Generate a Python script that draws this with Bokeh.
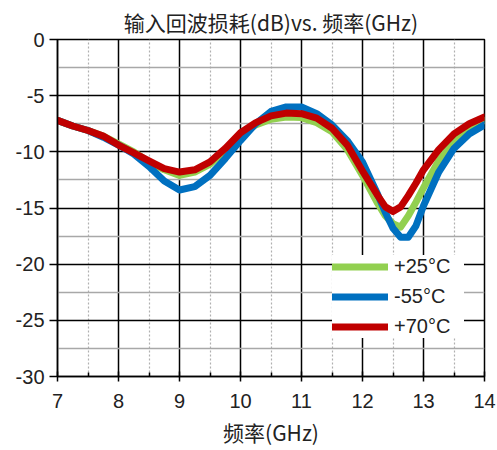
from bokeh.plotting import figure
from bokeh.models import FixedTicker, Range1d, Legend, LegendItem
from bokeh.embed import file_html
from bokeh.resources import INLINE

# ---- data ----
freq = [7, 7.25, 7.5, 7.75, 8, 8.25, 8.5, 8.75, 9, 9.25, 9.5, 9.75, 10,
        10.25, 10.5, 10.75, 11, 11.25, 11.5, 11.75, 12, 12.25, 12.375, 12.5,
        12.625, 12.75, 12.875, 13, 13.25, 13.5, 13.75, 14]
rl_p25 = [-7.2, -7.7, -8.1, -8.6, -9.3, -10.0, -10.9, -11.6, -12.1, -11.8, -11.1, -9.9, -8.5,
          -7.6, -7.1, -6.9, -6.95, -7.4, -8.2, -9.8, -12.1, -14.6, -15.7, -16.4,
          -16.7, -15.7, -14.5, -13.2, -10.8, -9.0, -7.9, -7.2]
rl_m55 = [-7.2, -7.7, -8.1, -8.7, -9.4, -10.2, -11.3, -12.6, -13.4, -13.1, -12.1, -10.6, -9.0,
          -7.5, -6.4, -6.0, -6.0, -6.6, -7.6, -9.0, -10.9, -13.8, -15.4, -16.8,
          -17.6, -17.6, -16.6, -14.8, -11.8, -9.7, -8.4, -7.6]
rl_p70 = [-7.2, -7.7, -8.1, -8.6, -9.4, -10.1, -10.8, -11.5, -11.8, -11.6, -10.9, -9.7, -8.3,
          -7.4, -6.8, -6.55, -6.6, -7.0, -7.9, -9.4, -11.7, -13.9, -14.9, -15.3,
          -14.9, -13.9, -12.8, -11.6, -9.8, -8.4, -7.5, -6.9]

x_major = [7, 8, 9, 10, 11, 12, 13, 14]
x_minor = [7.5, 8.5, 9.5, 10.5, 11.5, 12.5, 13.5]
y_major = [-30, -25, -20, -15, -10, -5, 0]
y_minor = [-27.5, -22.5, -17.5, -12.5, -7.5, -2.5]
y_labels = ["-30", "-25", "-20", "-15", "-10", "-5", "0"]

series_names = ["+25°C", "-55°C", "+70°C"]
series_colors = ["#92D050", "#0070C0", "#C00000"]

title_text = "输入回波损耗(dB)vs. 频率(GHz)"
x_label = "频率(GHz)"

p = figure(width=497, height=450, output_backend="svg", toolbar_location=None,
           x_range=Range1d(7, 14), y_range=Range1d(-30, 0),
           min_border_left=57, min_border_right=13, min_border_top=39,
           min_border_bottom=74, title=title_text)

p.title.text_font = "Noto Sans CJK SC"
p.title.text_font_size = "21px"
p.title.text_font_style = "normal"
p.title.align = "center"
p.title.text_color = "#222222"
p.title.standoff = 6
p.title.offset = 8

p.outline_line_color = "black"
p.outline_line_width = 1.5
p.background_fill_color = "white"
p.border_fill_color = "white"

# axes
p.xaxis.ticker = FixedTicker(ticks=x_major, minor_ticks=x_minor)
p.yaxis.ticker = FixedTicker(ticks=y_major, minor_ticks=y_minor)
for ax in (p.xaxis[0], p.yaxis[0]):
    ax.axis_line_color = "black"
    ax.axis_line_width = 1.5
    ax.major_tick_line_color = "black"
    ax.major_tick_line_width = 1.5
    ax.major_label_text_font = "Liberation Sans"
    ax.major_label_text_color = "#222222"
    ax.major_label_text_font_size = "20px"
p.yaxis.major_label_overrides = {v: s for v, s in zip(y_major, y_labels)}
p.xaxis.major_tick_in = 5
p.xaxis.major_tick_out = 5
p.xaxis.minor_tick_in = 4
p.xaxis.minor_tick_out = 0
p.xaxis.minor_tick_line_color = "black"
p.xaxis.minor_tick_line_width = 1.5
p.xaxis.major_label_standoff = 12
p.xaxis.axis_label = x_label
p.xaxis.axis_label_text_font = "Noto Sans CJK SC"
p.xaxis.axis_label_text_font_size = "21px"
p.xaxis.axis_label_text_font_style = "normal"
p.xaxis.axis_label_text_color = "#222222"
p.xaxis.axis_label_standoff = 6

p.yaxis.major_tick_in = 0
p.yaxis.major_tick_out = 8
p.yaxis.minor_tick_line_color = None
p.yaxis.major_label_standoff = 5

# grids
p.xgrid.ticker = FixedTicker(ticks=x_major, minor_ticks=x_minor)
p.xgrid.grid_line_color = "black"
p.xgrid.grid_line_width = 1.5
p.xgrid.minor_grid_line_color = "#b0b0b0"
p.xgrid.minor_grid_line_dash = "2 2"
p.xgrid.minor_grid_line_width = 1.2
p.ygrid.ticker = FixedTicker(ticks=y_major, minor_ticks=y_minor)
p.ygrid.grid_line_color = "black"
p.ygrid.grid_line_width = 1.5
p.ygrid.minor_grid_line_color = "#a8a8a8"
p.ygrid.minor_grid_line_width = 1.5

# lines
r25 = p.line(freq, rl_p25, line_color=series_colors[0], line_width=7, line_join="round", line_cap="round")
r55 = p.line(freq, rl_m55, line_color=series_colors[1], line_width=7, line_join="round", line_cap="round")
r70 = p.line(freq, rl_p70, line_color=series_colors[2], line_width=7, line_join="round", line_cap="round")

legend = Legend(items=[LegendItem(label=series_names[0], renderers=[r25]),
                       LegendItem(label=series_names[1], renderers=[r55]),
                       LegendItem(label=series_names[2], renderers=[r70])],
                location=(275, 38), margin=0, padding=5, spacing=7,
                glyph_width=56, glyph_height=21, label_height=21, label_width=70,
                label_standoff=6, label_text_font="Liberation Sans",
                label_text_font_size="20px", label_text_color="#222222",
                background_fill_color="white", background_fill_alpha=1.0,
                border_line_color=None)
p.add_layout(legend)

open("out.html", "w").write(file_html(p, INLINE))
